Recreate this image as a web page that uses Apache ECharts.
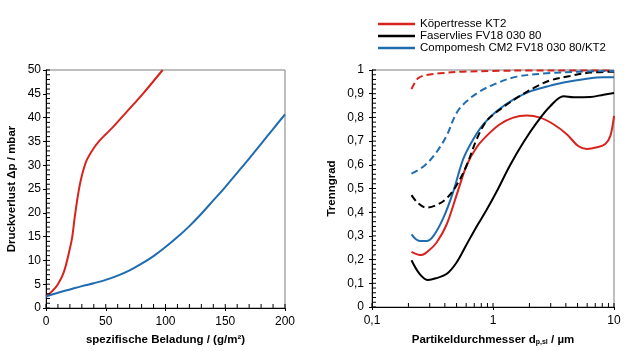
<!DOCTYPE html>
<html>
<head>
<meta charset="utf-8">
<script src="https://cdn.jsdelivr.net/npm/echarts@6/dist/echarts.min.js"></script>
<style>
  html, body { margin: 0; padding: 0; background: #fff; }
  #chart { width: 630px; height: 351px; }
</style>
</head>
<body>
<div id="chart"></div>
<script>
// Druckverlust über spezifische Beladung  [g/m², mbar]
const dpKT2 = [[0, 2.4], [5, 3.5], [10, 5], [15, 7.6], [20, 12.5], [22, 15], [24, 19], [26, 22.5],
  [28, 25.5], [30, 27.8], [34, 31], [40, 33.6], [45, 35.2], [50, 36.5], [56, 38], [67.5, 41.2],
  [81.4, 45.1], [97.6, 50]]
const dpCM2 = [[0, 2.4], [10, 3.2], [20, 3.9], [30, 4.6], [40, 5.2], [50, 5.9], [60, 6.8], [70, 7.9],
  [80, 9.3], [90, 10.9], [100, 12.8], [110, 14.9], [120, 17.2], [130, 19.8], [140, 22.6],
  [150, 25.4], [160, 28.4], [170, 31.4], [180, 34.5], [190, 37.6], [200, 40.7]]

// Trenngrad über Partikeldurchmesser  [µm, -]
const tgKT2 = [[0.212, 0.233], [0.256, 0.219], [0.291, 0.236], [0.341, 0.271], [0.413, 0.347],
  [0.5, 0.472], [0.605, 0.597], [0.733, 0.674], [0.886, 0.722], [1.14, 0.771], [1.47, 0.799],
  [1.9, 0.808], [2.45, 0.799], [3.16, 0.771], [4.07, 0.729], [5.09, 0.678], [5.97, 0.667],
  [7.22, 0.674], [8.47, 0.688], [9.33, 0.722], [10, 0.806]]
const tgFV18 = [[0.212, 0.197], [0.248, 0.139], [0.291, 0.114], [0.341, 0.122], [0.413, 0.139],
  [0.5, 0.188], [0.605, 0.264], [0.733, 0.34], [0.886, 0.41], [1.07, 0.486], [1.38, 0.597],
  [1.78, 0.694], [2.3, 0.778], [2.97, 0.847], [3.83, 0.889], [4.64, 0.885], [6.37, 0.886],
  [8.2, 0.896], [10, 0.903]]
const tgCM2 = [[0.212, 0.306], [0.248, 0.278], [0.282, 0.278], [0.321, 0.299], [0.388, 0.375],
  [0.469, 0.486], [0.568, 0.625], [0.687, 0.708], [0.832, 0.771], [1.07, 0.826], [1.47, 0.875],
  [2.03, 0.91], [2.79, 0.93], [3.83, 0.947], [5.61, 0.961], [8.2, 0.969], [10, 0.969]]
// gestrichelt
const tgKT2b = [[0.212, 0.919], [0.24, 0.965], [0.282, 0.979], [0.364, 0.986], [0.567, 0.993],
  [1, 0.996], [2, 0.998], [5, 0.998], [10, 0.998]]
const tgFV18b = [[0.212, 0.472], [0.24, 0.438], [0.282, 0.419], [0.341, 0.43], [0.413, 0.458],
  [0.5, 0.514], [0.605, 0.597], [0.733, 0.708], [0.886, 0.785], [1.14, 0.833], [1.57, 0.882],
  [2.3, 0.931], [2.97, 0.956], [4.34, 0.975], [6.37, 0.989], [10, 0.993]]
const tgCM2b = [[0.212, 0.563], [0.273, 0.597], [0.341, 0.653], [0.413, 0.722], [0.5, 0.819],
  [0.605, 0.868], [0.78, 0.91], [1.07, 0.944], [1.57, 0.972], [2.79, 0.986], [5.26, 0.993],
  [10, 0.996]]

const legendNames = ['Köpertresse KT2', 'Faservlies FV18 030 80', 'Compomesh CM2 FV18 030 80/KT2']
const logMinorTicks = [0.1, 0.2, 0.3, 0.4, 0.5, 0.6, 0.7, 0.8, 0.9, 1, 2, 3, 4, 5, 6, 7, 8, 9, 10]

const RED = '#d8231d'
const BLACK = '#000000'
const BLUE = '#1f6cb0'
const FONT = 'Liberation Sans'

// Teilstriche innen (Haupt- und Nebenteilung)
function steps(min, max, step) {
  const out = []
  for (let i = 0; min + i * step <= max + 1e-9; i++) out.push(Math.round((min + i * step) * 1000) / 1000)
  return out
}
const leftXTicks = steps(0, 200, 10)
const leftYTicks = steps(0, 50, 1)
const rightYTicks = steps(0, 1, 0.02)

const chart = echarts.init(document.getElementById('chart'))

const comma = v => String(v).replace('.', ',')
const label = { color: '#000', fontSize: 12, fontFamily: FONT }
const nameStyle = { color: '#000', fontSize: 11.5, fontWeight: 'bold', fontFamily: FONT }

function axis(base) {
  return Object.assign({
    offset: 0,
    nameMoveOverlap: false,
    axisLine: { show: true, onZero: false, lineStyle: { color: '#000', width: 1 } },
    axisTick: { show: true, inside: false, length: 3, lineStyle: { color: '#000', width: 1 } },
    splitLine: { show: false }
  }, base)
}

function line(name, data, color, xi, yi, dashed) {
  return {
    name: name,
    type: 'line',
    xAxisIndex: xi,
    yAxisIndex: yi,
    data: data,
    smooth: 0.35,
    showSymbol: false,
    symbol: 'none',
    lineStyle: { color: color, width: 2, type: dashed ? [7, 4] : 'solid' },
    itemStyle: { color: color },
    animation: false
  }
}

// kurze Striche von der Achse nach innen, über die Achsenskalen positioniert
function ticks(xi, yi, points, dx, dy) {
  return {
    type: 'custom',
    xAxisIndex: xi,
    yAxisIndex: yi,
    silent: true,
    clip: false,
    z: 10,
    data: points,
    renderItem: function (params, api) {
      const p = api.coord([api.value(0), api.value(1)])
      return {
        type: 'line',
        shape: { x1: p[0], y1: p[1], x2: p[0] + dx, y2: p[1] + dy },
        style: { stroke: '#000', lineWidth: 1 }
      }
    }
  }
}

chart.setOption({
  backgroundColor: '#fff',
  textStyle: { fontFamily: FONT },
  animation: false,
  legend: {
    data: legendNames,
    orient: 'vertical',
    left: 378,
    top: 18,
    padding: 0,
    icon: 'rect',
    itemWidth: 37,
    itemHeight: 2.5,
    itemGap: 0,
    selectedMode: false,
    textStyle: { color: '#000', fontSize: 11.5, fontFamily: FONT, lineHeight: 11.5 }
  },
  grid: [
    { left: 46, top: 70, width: 239, height: 240, show: true, borderColor: '#7f7f7f', borderWidth: 1 },
    { left: 372, top: 70, width: 242, height: 240, show: true, borderColor: '#7f7f7f', borderWidth: 1 }
  ],
  xAxis: [
    axis({
      type: 'value', gridIndex: 0, position: 'bottom', min: 0, max: 200, interval: 50,
      name: 'spezifische Beladung / (g/m²)', nameLocation: 'middle', nameGap: 26,
      nameTextStyle: nameStyle, axisLabel: Object.assign({ margin: 8 }, label)
    }),
    axis({
      type: 'log', logBase: 10, gridIndex: 1, position: 'bottom', min: 0.1, max: 10,
      name: 'Partikeldurchmesser d{s|p,sl} / µm', nameLocation: 'middle', nameGap: 26,
      nameTextStyle: Object.assign({
        rich: { s: { fontSize: 7, fontWeight: 'bold', fontFamily: FONT, color: '#000', padding: [6, 0, 0, 0] } }
      }, nameStyle),
      axisLabel: Object.assign({ margin: 8, formatter: comma }, label)
    })
  ],
  yAxis: [
    axis({
      type: 'value', gridIndex: 0, position: 'left', min: 0, max: 50, interval: 5,
      name: 'Druckverlust Δp / mbar', nameLocation: 'middle', nameGap: 28,
      nameTextStyle: nameStyle, axisLabel: Object.assign({ margin: 5 }, label)
    }),
    axis({
      type: 'value', gridIndex: 1, position: 'left', min: 0, max: 1, interval: 0.1,
      name: 'Trenngrad', nameLocation: 'middle', nameGap: 34,
      nameTextStyle: nameStyle, axisLabel: Object.assign({ margin: 8, formatter: comma }, label)
    })
  ],
  series: [
    line(legendNames[0], dpKT2, RED, 0, 0, false),
    line(legendNames[2], dpCM2, BLUE, 0, 0, false),
    line(legendNames[0], tgKT2, RED, 1, 1, false),
    line(legendNames[1], tgFV18, BLACK, 1, 1, false),
    line(legendNames[2], tgCM2, BLUE, 1, 1, false),
    line('KT2 gestrichelt', tgKT2b, RED, 1, 1, true),
    line('FV18 gestrichelt', tgFV18b, BLACK, 1, 1, true),
    line('CM2 gestrichelt', tgCM2b, BLUE, 1, 1, true),
    ticks(0, 0, leftXTicks.map(v => [v, 0]), 0, -4),
    ticks(0, 0, leftYTicks.map(v => [0, v]), 4, 0),
    ticks(1, 1, logMinorTicks.map(v => [v, 0]), 0, -4),
    ticks(1, 1, rightYTicks.map(v => [0.1, v]), 4, 0)
  ]
})
</script>
</body>
</html>
